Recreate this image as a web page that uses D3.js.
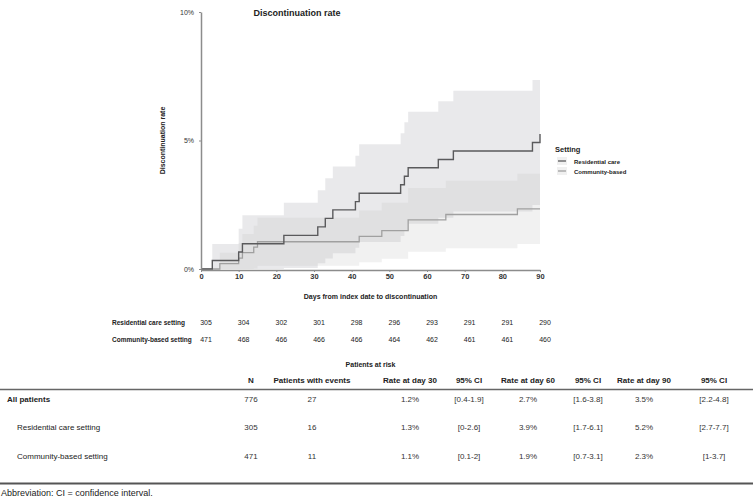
<!DOCTYPE html>
<html>
<head>
<meta charset="utf-8">
<script src="https://cdn.jsdelivr.net/npm/d3@7"></script>
<style>
  body { margin: 0; background: #fff; }
  svg { font-family: "Liberation Sans", Arial, sans-serif; }
</style>
</head>
<body>
<div id="chart"></div>
<script>
// time ticks and patients at risk
const dayTicks = [0, 10, 20, 30, 40, 50, 60, 70, 80, 90]
const riskResidential = [305, 304, 302, 301, 298, 296, 293, 291, 291, 290]
const riskCommunity = [471, 468, 466, 466, 466, 464, 462, 461, 461, 460]

// residential care: step curve (%), with 95% band
const resDays = [0, 3, 10, 11, 22, 31, 33, 35, 41, 42, 53, 54, 55, 63, 67, 88, 90]
const resRate = [0, 0.33, 0.66, 0.98, 1.31, 1.64, 1.97, 2.30, 2.62, 2.95, 3.28, 3.61, 3.94, 4.26, 4.59, 4.92, 5.25]
const resLow = [0, 0, 0, 0, 0.04, 0.22, 0.41, 0.61, 0.83, 1.05, 1.28, 1.51, 1.76, 1.99, 2.24, 2.49, 2.74]
const resHigh = [0, 0.97, 1.57, 2.09, 2.58, 3.06, 3.53, 3.99, 4.41, 4.85, 5.28, 5.71, 6.12, 6.53, 6.94, 7.35, 7.76]

// community-based: step curve (%), with 95% band
const comDays = [0, 5, 10, 11, 14, 15, 42, 48, 55, 65, 84, 90]
const comRate = [0, 0.21, 0.42, 0.64, 0.85, 1.06, 1.27, 1.49, 1.91, 2.12, 2.34, 2.34]
const comLow = [0, 0, 0, 0, 0.02, 0.13, 0.26, 0.40, 0.67, 0.81, 0.97, 0.97]
const comHigh = [0, 0.63, 1.00, 1.36, 1.68, 1.99, 2.28, 2.58, 3.15, 3.43, 3.71, 3.71]

// summary table
const tableHeader = ['N', 'Patients with events', 'Rate at day 30', '95% CI', 'Rate at day 60', '95% CI', 'Rate at day 90', '95% CI']
const tableRows = [
  ['All patients', '776', '27', '1.2%', '[0.4-1.9]', '2.7%', '[1.6-3.8]', '3.5%', '[2.2-4.8]'],
  ['Residential care setting', '305', '16', '1.3%', '[0-2.6]', '3.9%', '[1.7-6.1]', '5.2%', '[2.7-7.7]'],
  ['Community-based setting', '471', '11', '1.1%', '[0.1-2]', '1.9%', '[0.7-3.1]', '2.3%', '[1-3.7]']
]

const width = 753
const height = 499

const svg = d3.select('#chart').append('svg')
  .attr('width', width)
  .attr('height', height)

const x = d3.scaleLinear().domain([0, 90]).range([201, 540])
const y = d3.scaleLinear().domain([0, 10]).range([269, 12])

function zipSeries(days, rate, low, high) {
  return days.map((d, i) => ({ d: d, r: rate[i], lo: low[i], hi: high[i] }))
}
const resData = zipSeries(resDays, resRate, resLow, resHigh)
const comData = zipSeries(comDays, comRate, comLow, comHigh)

const band = d3.area().curve(d3.curveStepAfter)
  .x(p => x(p.d)).y0(p => y(p.lo)).y1(p => y(p.hi))
const line = d3.line().curve(d3.curveStepAfter)
  .x(p => x(p.d)).y(p => y(p.r))

// confidence bands
svg.append('path').datum(resData)
  .attr('d', band)
  .attr('fill', 'rgb(165,165,170)').attr('fill-opacity', 0.24)
svg.append('path').datum(comData)
  .attr('d', band)
  .attr('fill', 'rgb(190,190,190)').attr('fill-opacity', 0.22)

// step lines
svg.append('path').datum(comData)
  .attr('d', line)
  .attr('fill', 'none').attr('stroke', '#a0a0a0').attr('stroke-width', 1.3)
svg.append('path').datum(resData)
  .attr('d', line)
  .attr('fill', 'none').attr('stroke', '#5a5a5c').attr('stroke-width', 1.4)

// axes
const xAxis = svg.append('g')
  .attr('transform', `translate(0,${y(0) + 1})`)
  .call(d3.axisBottom(x).tickValues(dayTicks).tickSize(2).tickSizeOuter(0))
xAxis.selectAll('text').attr('font-size', 7.5).attr('font-weight', 'bold').attr('fill', '#333').attr('dy', '0.55em')

const yAxis = svg.append('g')
  .attr('transform', `translate(${x(0)},0)`)
  .call(d3.axisLeft(y).tickValues([0, 5, 10]).tickFormat(d => d + '%').tickSize(2).tickSizeOuter(0))
yAxis.selectAll('text').attr('font-size', 7).attr('fill', '#333').attr('dx', '-2')

svg.selectAll('.domain').attr('stroke', '#8c8c8c').attr('stroke-width', 1.5)
svg.selectAll('.tick line').attr('stroke', '#8c8c8c')

// titles
svg.append('text')
  .attr('x', 297).attr('y', 16)
  .attr('text-anchor', 'middle')
  .attr('font-size', 9).attr('font-weight', 'bold').attr('fill', '#222')
  .text('Discontinuation rate')

svg.append('text')
  .attr('transform', `translate(165,${y(5)}) rotate(-90)`)
  .attr('text-anchor', 'middle')
  .attr('font-size', 7).attr('font-weight', 'bold').attr('fill', '#222')
  .text('Discontinuation rate')

svg.append('text')
  .attr('x', (x(0) + x(90)) / 2).attr('y', 299)
  .attr('text-anchor', 'middle')
  .attr('font-size', 7).attr('font-weight', 'bold').attr('fill', '#222')
  .text('Days from index date to discontinuation')

// legend
const legend = svg.append('g').attr('transform', 'translate(555,149)')
legend.append('text')
  .attr('x', 0).attr('y', 3)
  .attr('font-size', 7.5).attr('font-weight', 'bold').attr('fill', '#222')
  .text('Setting')
const legendItems = [
  { label: 'Residential care', color: '#5a5a5c' },
  { label: 'Community-based', color: '#a0a0a0' }
]
legendItems.forEach((item, i) => {
  const g = legend.append('g').attr('transform', `translate(0,${12 + i * 10})`)
  g.append('rect').attr('x', 2).attr('y', -4).attr('width', 10).attr('height', 8).attr('fill', '#f0f0f0')
  g.append('line').attr('x1', 3).attr('x2', 11).attr('y1', 0).attr('y2', 0)
    .attr('stroke', item.color).attr('stroke-width', 1.3)
  g.append('text').attr('x', 19).attr('y', 2.5)
    .attr('font-size', 6).attr('font-weight', 'bold').attr('fill', '#222')
    .text(item.label)
})

// patients at risk
const riskRows = [
  { label: 'Residential care setting', values: riskResidential, y: 325 },
  { label: 'Community-based setting', values: riskCommunity, y: 342 }
]
riskRows.forEach(row => {
  svg.append('text')
    .attr('x', 112).attr('y', row.y)
    .attr('font-size', 6.5).attr('font-weight', 'bold').attr('fill', '#222')
    .text(row.label)
  svg.append('g').selectAll('text')
    .data(row.values)
    .join('text')
    .attr('x', (v, i) => x(dayTicks[i]) + 5)
    .attr('y', row.y)
    .attr('text-anchor', 'middle')
    .attr('font-size', 7).attr('fill', '#222')
    .text(v => v)
})
svg.append('text')
  .attr('x', (x(0) + x(90)) / 2).attr('y', 367)
  .attr('text-anchor', 'middle')
  .attr('font-size', 7).attr('font-weight', 'bold').attr('fill', '#222')
  .text('Patients at risk')

// summary table
const colX = [251, 312, 410, 469, 528, 588, 644, 714]
const headerY = 383
const rowY = [402, 430, 459]

svg.append('g').selectAll('text')
  .data(tableHeader)
  .join('text')
  .attr('x', (d, i) => colX[i]).attr('y', headerY)
  .attr('text-anchor', 'middle')
  .attr('font-size', 8).attr('font-weight', 'bold').attr('fill', '#222')
  .text(d => d)

svg.append('line').attr('x1', 0).attr('x2', width).attr('y1', 389.5).attr('y2', 389.5)
  .attr('stroke', '#666').attr('stroke-width', 1.5)
svg.append('line').attr('x1', 0).attr('x2', width).attr('y1', 483.5).attr('y2', 483.5)
  .attr('stroke', '#555').attr('stroke-width', 2)

tableRows.forEach((row, r) => {
  svg.append('text')
    .attr('x', r === 0 ? 7 : 17).attr('y', rowY[r])
    .attr('font-size', 8).attr('font-weight', r === 0 ? 'bold' : 'normal').attr('fill', '#222')
    .text(row[0])
  svg.append('g').selectAll('text')
    .data(row.slice(1))
    .join('text')
    .attr('x', (d, i) => colX[i]).attr('y', rowY[r])
    .attr('text-anchor', 'middle')
    .attr('font-size', 8).attr('fill', '#333')
    .text(d => d)
})

svg.append('text')
  .attr('x', 1).attr('y', 496)
  .attr('font-size', 9).attr('fill', '#222')
  .text('Abbreviation: CI = confidence interval.')
</script>
</body>
</html>
